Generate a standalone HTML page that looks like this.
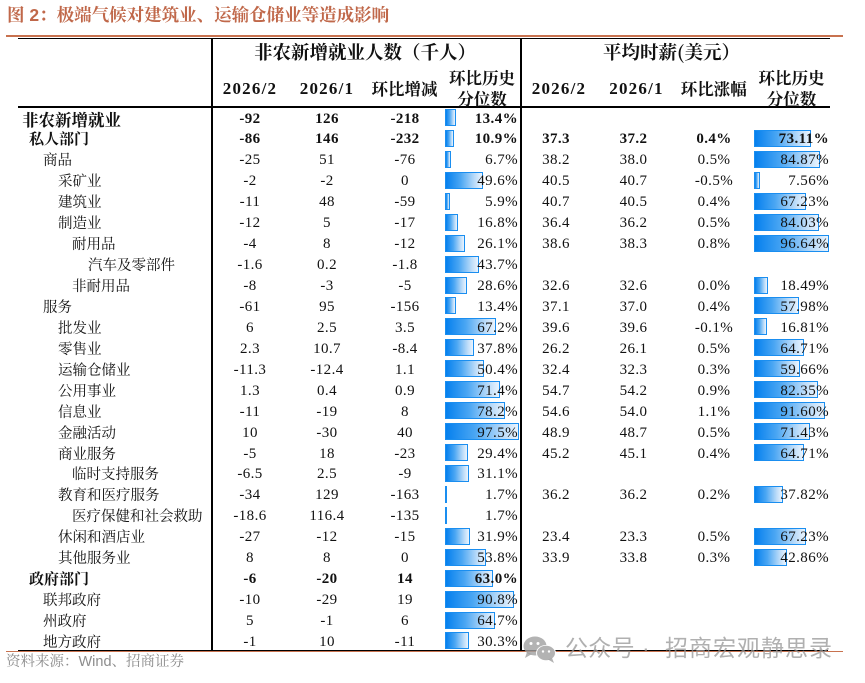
<!DOCTYPE html>
<html><head><meta charset="utf-8">
<style>
*{margin:0;padding:0;box-sizing:border-box}
body{width:865px;height:683px;background:#fff;position:relative;overflow:hidden;font-family:"Liberation Serif","Noto Serif CJK SC",serif;color:#111}
.a{position:absolute}
.title{left:7px;top:3px;font-size:17.5px;font-weight:bold;color:#c0684a;font-family:"Liberation Sans","Noto Serif CJK SC",serif;white-space:nowrap;line-height:24px}
.hl{background:#000}
.h1{font-family:"Noto Serif CJK SC",serif;font-weight:bold;font-size:18.5px;text-align:center;line-height:26px;white-space:nowrap}
.h2{font-weight:bold;font-size:17px;letter-spacing:1.2px;text-align:center;line-height:21px;width:90px;white-space:nowrap}
.h3{font-family:"Noto Serif CJK SC",serif;font-weight:bold;font-size:16.5px;text-align:center;line-height:21px;width:90px;white-space:nowrap}
.rows{position:absolute;left:0;top:107.5px;width:865px}
.r{position:relative;height:20.94px;line-height:20.94px;font-size:15px;letter-spacing:.4px;width:865px}
.r span{position:absolute;top:1px;white-space:nowrap}
.r .l{font-family:"Noto Serif CJK SC",serif;font-size:14.5px;letter-spacing:0}
.c1{left:210px;width:80px;text-align:center}
.c2{left:287px;width:80px;text-align:center}
.c3{left:365px;width:80px;text-align:center}
.p1{right:347px;z-index:2}
.d1{left:516px;width:80px;text-align:center}
.d2{left:593.5px;width:80px;text-align:center}
.d3{left:674px;width:80px;text-align:center}
.p2{right:36px;z-index:2}
.bl,.br{position:absolute;top:1.5px;height:17px;border:1px solid #1a8ef0;background:linear-gradient(to right,#0580ee 0%,#4aa6f3 40%,#bcdcf9 80%,#eaf4fe 100%);z-index:1}
.bl{left:445px}
.br{left:754px}
.b{font-weight:bold}
.src{left:6px;top:652px;font-size:14.5px;color:#8c8c8c;font-family:"Liberation Sans","Noto Serif CJK SC",sans-serif;line-height:21px;white-space:nowrap}
.wm{top:635px;font-size:23px;line-height:26px;color:rgba(150,150,150,0.75);font-family:"Liberation Sans","Noto Sans CJK SC",sans-serif;white-space:nowrap;z-index:5}
</style></head><body>

<div class="a title">图 2：极端气候对建筑业、运输仓储业等造成影响</div>
<div class="a" style="left:6px;top:35px;width:837px;height:1.5px;background:#c8724f"></div>

<!-- table lines -->
<div class="a hl" style="left:18px;top:37.5px;width:812px;height:1.5px"></div>
<div class="a hl" style="left:18px;top:105.5px;width:812px;height:2px"></div>
<div class="a hl" style="left:211px;top:38px;width:1.5px;height:612px"></div>
<div class="a hl" style="left:520px;top:38px;width:2px;height:612px"></div>
<div class="a hl" style="left:18px;top:649.5px;width:810px;height:1.5px"></div>
<div class="a" style="left:6px;top:651px;width:837px;height:1.2px;background:#c8724f"></div>

<!-- headers -->
<div class="a h1" style="left:214px;top:39px;width:302px">非农新增就业人数（千人）</div>
<div class="a h1" style="left:521px;top:39px;width:301px">平均时薪(美元）</div>

<div class="a h2" style="left:205px;top:77.5px">2026/2</div>
<div class="a h2" style="left:282px;top:77.5px">2026/1</div>
<div class="a h3" style="left:359.5px;top:77.5px">环比增减</div>
<div class="a h3" style="left:437px;top:66.5px">环比历史<br>分位数</div>
<div class="a h2" style="left:514px;top:77.5px">2026/2</div>
<div class="a h2" style="left:591.5px;top:77.5px">2026/1</div>
<div class="a h3" style="left:668.7px;top:77.5px">环比涨幅</div>
<div class="a h3" style="left:746.5px;top:66.5px">环比历史<br>分位数</div>

<div class="rows">
<div class="r b"><span class="l" style="left:22px;font-size:16.5px">非农新增就业</span><span class="c1">-92</span><span class="c2">126</span><span class="c3">-218</span><i class="bl" style="width:10.8px"></i><span class="p1">13.4%</span></div>
<div class="r b"><span class="l" style="left:29px;font-size:15px">私人部门</span><span class="c1">-86</span><span class="c2">146</span><span class="c3">-232</span><i class="bl" style="width:8.9px"></i><span class="p1">10.9%</span><span class="d1">37.3</span><span class="d2">37.2</span><span class="d3">0.4%</span><i class="br" style="width:56.9px"></i><span class="p2">73.11%</span></div>
<div class="r"><span class="l" style="left:43px">商品</span><span class="c1">-25</span><span class="c2">51</span><span class="c3">-76</span><i class="bl" style="width:5.8px"></i><span class="p1">6.7%</span><span class="d1">38.2</span><span class="d2">38.0</span><span class="d3">0.5%</span><i class="br" style="width:66px"></i><span class="p2">84.87%</span></div>
<div class="r"><span class="l" style="left:58px">采矿业</span><span class="c1">-2</span><span class="c2">-2</span><span class="c3">0</span><i class="bl" style="width:38.1px"></i><span class="p1">49.6%</span><span class="d1">40.5</span><span class="d2">40.7</span><span class="d3">-0.5%</span><i class="br" style="width:5.9px"></i><span class="p2">7.56%</span></div>
<div class="r"><span class="l" style="left:58px">建筑业</span><span class="c1">-11</span><span class="c2">48</span><span class="c3">-59</span><i class="bl" style="width:5.2px"></i><span class="p1">5.9%</span><span class="d1">40.7</span><span class="d2">40.5</span><span class="d3">0.4%</span><i class="br" style="width:52.3px"></i><span class="p2">67.23%</span></div>
<div class="r"><span class="l" style="left:58px">制造业</span><span class="c1">-12</span><span class="c2">5</span><span class="c3">-17</span><i class="bl" style="width:13.4px"></i><span class="p1">16.8%</span><span class="d1">36.4</span><span class="d2">36.2</span><span class="d3">0.5%</span><i class="br" style="width:65.4px"></i><span class="p2">84.03%</span></div>
<div class="r"><span class="l" style="left:72px">耐用品</span><span class="c1">-4</span><span class="c2">8</span><span class="c3">-12</span><i class="bl" style="width:20.4px"></i><span class="p1">26.1%</span><span class="d1">38.6</span><span class="d2">38.3</span><span class="d3">0.8%</span><i class="br" style="width:75.2px"></i><span class="p2">96.64%</span></div>
<div class="r"><span class="l" style="left:88px">汽车及零部件</span><span class="c1">-1.6</span><span class="c2">0.2</span><span class="c3">-1.8</span><i class="bl" style="width:33.7px"></i><span class="p1">43.7%</span></div>
<div class="r"><span class="l" style="left:72px">非耐用品</span><span class="c1">-8</span><span class="c2">-3</span><span class="c3">-5</span><i class="bl" style="width:22.3px"></i><span class="p1">28.6%</span><span class="d1">32.6</span><span class="d2">32.6</span><span class="d3">0.0%</span><i class="br" style="width:14.4px"></i><span class="p2">18.49%</span></div>
<div class="r"><span class="l" style="left:43px">服务</span><span class="c1">-61</span><span class="c2">95</span><span class="c3">-156</span><i class="bl" style="width:10.8px"></i><span class="p1">13.4%</span><span class="d1">37.1</span><span class="d2">37.0</span><span class="d3">0.4%</span><i class="br" style="width:45.1px"></i><span class="p2">57.98%</span></div>
<div class="r"><span class="l" style="left:58px">批发业</span><span class="c1">6</span><span class="c2">2.5</span><span class="c3">3.5</span><i class="bl" style="width:51.4px"></i><span class="p1">67.2%</span><span class="d1">39.6</span><span class="d2">39.6</span><span class="d3">-0.1%</span><i class="br" style="width:13.1px"></i><span class="p2">16.81%</span></div>
<div class="r"><span class="l" style="left:58px">零售业</span><span class="c1">2.3</span><span class="c2">10.7</span><span class="c3">-8.4</span><i class="bl" style="width:29.2px"></i><span class="p1">37.8%</span><span class="d1">26.2</span><span class="d2">26.1</span><span class="d3">0.5%</span><i class="br" style="width:50.3px"></i><span class="p2">64.71%</span></div>
<div class="r"><span class="l" style="left:58px">运输仓储业</span><span class="c1">-11.3</span><span class="c2">-12.4</span><span class="c3">1.1</span><i class="bl" style="width:38.8px"></i><span class="p1">50.4%</span><span class="d1">32.4</span><span class="d2">32.3</span><span class="d3">0.3%</span><i class="br" style="width:46.4px"></i><span class="p2">59.66%</span></div>
<div class="r"><span class="l" style="left:58px">公用事业</span><span class="c1">1.3</span><span class="c2">0.4</span><span class="c3">0.9</span><i class="bl" style="width:54.6px"></i><span class="p1">71.4%</span><span class="d1">54.7</span><span class="d2">54.2</span><span class="d3">0.9%</span><i class="br" style="width:64.1px"></i><span class="p2">82.35%</span></div>
<div class="r"><span class="l" style="left:58px">信息业</span><span class="c1">-11</span><span class="c2">-19</span><span class="c3">8</span><i class="bl" style="width:59.7px"></i><span class="p1">78.2%</span><span class="d1">54.6</span><span class="d2">54.0</span><span class="d3">1.1%</span><i class="br" style="width:71.3px"></i><span class="p2">91.60%</span></div>
<div class="r"><span class="l" style="left:58px">金融活动</span><span class="c1">10</span><span class="c2">-30</span><span class="c3">40</span><i class="bl" style="width:74.3px"></i><span class="p1">97.5%</span><span class="d1">48.9</span><span class="d2">48.7</span><span class="d3">0.5%</span><i class="br" style="width:55.6px"></i><span class="p2">71.43%</span></div>
<div class="r"><span class="l" style="left:58px">商业服务</span><span class="c1">-5</span><span class="c2">18</span><span class="c3">-23</span><i class="bl" style="width:22.9px"></i><span class="p1">29.4%</span><span class="d1">45.2</span><span class="d2">45.1</span><span class="d3">0.4%</span><i class="br" style="width:50.3px"></i><span class="p2">64.71%</span></div>
<div class="r"><span class="l" style="left:72px">临时支持服务</span><span class="c1">-6.5</span><span class="c2">2.5</span><span class="c3">-9</span><i class="bl" style="width:24.2px"></i><span class="p1">31.1%</span></div>
<div class="r"><span class="l" style="left:58px">教育和医疗服务</span><span class="c1">-34</span><span class="c2">129</span><span class="c3">-163</span><i class="bl" style="width:2px"></i><span class="p1">1.7%</span><span class="d1">36.2</span><span class="d2">36.2</span><span class="d3">0.2%</span><i class="br" style="width:29.4px"></i><span class="p2">37.82%</span></div>
<div class="r"><span class="l" style="left:72px">医疗保健和社会救助</span><span class="c1">-18.6</span><span class="c2">116.4</span><span class="c3">-135</span><i class="bl" style="width:2px"></i><span class="p1">1.7%</span></div>
<div class="r"><span class="l" style="left:58px">休闲和酒店业</span><span class="c1">-27</span><span class="c2">-12</span><span class="c3">-15</span><i class="bl" style="width:24.8px"></i><span class="p1">31.9%</span><span class="d1">23.4</span><span class="d2">23.3</span><span class="d3">0.5%</span><i class="br" style="width:52.3px"></i><span class="p2">67.23%</span></div>
<div class="r"><span class="l" style="left:58px">其他服务业</span><span class="c1">8</span><span class="c2">8</span><span class="c3">0</span><i class="bl" style="width:41.3px"></i><span class="p1">53.8%</span><span class="d1">33.9</span><span class="d2">33.8</span><span class="d3">0.3%</span><i class="br" style="width:33.3px"></i><span class="p2">42.86%</span></div>
<div class="r b"><span class="l" style="left:29px;font-size:15px">政府部门</span><span class="c1">-6</span><span class="c2">-20</span><span class="c3">14</span><i class="bl" style="width:48.3px"></i><span class="p1">63.0%</span></div>
<div class="r"><span class="l" style="left:43px">联邦政府</span><span class="c1">-10</span><span class="c2">-29</span><span class="c3">19</span><i class="bl" style="width:69.3px"></i><span class="p1">90.8%</span></div>
<div class="r"><span class="l" style="left:43px">州政府</span><span class="c1">5</span><span class="c2">-1</span><span class="c3">6</span><i class="bl" style="width:49.5px"></i><span class="p1">64.7%</span></div>
<div class="r"><span class="l" style="left:43px">地方政府</span><span class="c1">-1</span><span class="c2">10</span><span class="c3">-11</span><i class="bl" style="width:23.6px"></i><span class="p1">30.3%</span></div>
</div>

<div class="a src">资料来源：Wind、招商证券</div>

<!-- watermark -->
<svg class="a" style="left:522px;top:634px;z-index:5" width="36" height="30" viewBox="0 0 36 30">
  <ellipse cx="13" cy="12" rx="11.5" ry="9.5" fill="rgba(160,160,160,0.8)"/>
  <path d="M5 18 L3 24 L10 20 Z" fill="rgba(160,160,160,0.8)"/>
  <ellipse cx="24" cy="19" rx="10" ry="8" fill="#fff"/>
  <ellipse cx="24" cy="19" rx="9" ry="7.2" fill="rgba(160,160,160,0.8)"/>
  <path d="M30 24 L32 29 L26 25.5 Z" fill="rgba(160,160,160,0.8)"/>
  <circle cx="9" cy="9.5" r="1.5" fill="#fff"/>
  <circle cx="16" cy="9.5" r="1.5" fill="#fff"/>
  <circle cx="21" cy="17.5" r="1.2" fill="#fff"/>
  <circle cx="27" cy="17.5" r="1.2" fill="#fff"/>
</svg>
<div class="a wm" style="left:565px;letter-spacing:0.3px">公众号</div>
<div class="a wm" style="left:642px">·</div>
<div class="a wm" style="left:665px;letter-spacing:1px">招商宏观静思录</div>

</body></html>
